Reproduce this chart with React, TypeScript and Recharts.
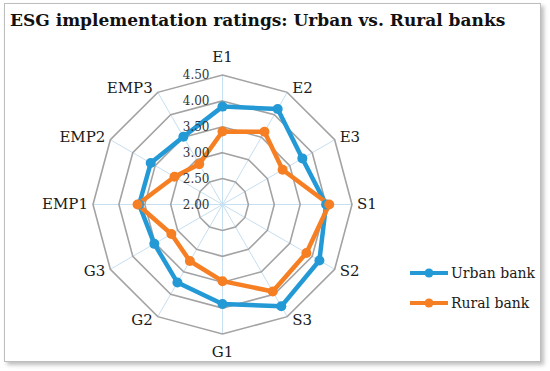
import React from 'react';
import {
    RadarChart,
    Radar,
    PolarGrid,
    PolarAngleAxis,
    PolarRadiusAxis,
    Legend
} from 'recharts';

const categories = ['E1', 'E2', 'E3', 'S1', 'S2', 'S3', 'G1', 'G2', 'G3', 'EMP1', 'EMP2', 'EMP3'];
const urbanValues = [3.89, 4.13, 3.78, 4.0, 4.16, 4.27, 3.92, 3.74, 3.52, 3.61, 3.6, 3.51];
const ruralValues = [3.41, 3.62, 3.34, 4.06, 3.87, 3.94, 3.48, 3.26, 3.14, 3.64, 3.07, 2.9];
const radiusTicks = [2.0, 2.5, 3.0, 3.5, 4.0, 4.5];
const seriesOrder = ['Urban bank', 'Rural bank'];

const URBAN_COLOR = '#2399d6';
const RURAL_COLOR = '#f57f22';
const FONT = '"DejaVu Serif", serif';

const CX = 222.5;
const CY = 204.5;
const OUTER = 129.5;

const data = categories.map((axis, i) => ({
    axis,
    urban: urbanValues[i],
    rural: ruralValues[i]
}));

// label placed just outside the outer ring vertex, like the Excel layout
const AngleTick = (props: any) => {
    const angle = props.payload.coordinate;
    const rad = (angle * Math.PI) / 180;
    const dirX = Math.cos(rad);
    const dirY = -Math.sin(rad);
    const vx = CX + dirX * OUTER;
    const vy = CY + dirY * OUTER;
    let x = vx;
    let y = vy;
    let anchor = 'middle';
    if (Math.abs(dirX) < 0.1) {
        y = vy + dirY * 18;
    } else {
        anchor = dirX > 0 ? 'start' : 'end';
        x = vx + (dirX > 0 ? 5 : -5);
        y = vy + dirY * 4 - 0.5;
    }
    return (
        <text
            x={x}
            y={y}
            textAnchor={anchor}
            dominantBaseline="central"
            fontFamily={FONT}
            fontSize={15}
            fill="#1a1a1a"
        >
            {props.payload.value}
        </text>
    );
};

const RadiusTick = (props: any) => (
    <text
        x={props.x - 13}
        y={props.y}
        textAnchor="end"
        dominantBaseline="central"
        fontFamily={FONT}
        fontSize={12}
        fill="#333"
    >
        {Number(props.payload.value).toFixed(2)}
    </text>
);

const solidDot = (color: string) => (p: any) => (
    <circle key={`dot-${p.index}`} cx={p.cx} cy={p.cy} r={5} fill={color} stroke="none" />
);

const renderLegend = (props: any) => {
    const payload = [...props.payload].sort(
        (a: any, b: any) => seriesOrder.indexOf(a.value) - seriesOrder.indexOf(b.value)
    );
    return (
        <div style={{ fontFamily: FONT, fontSize: 14, color: '#1a1a1a' }}>
            {payload.map((entry: any) => (
                <div
                    key={entry.value}
                    style={{ display: 'flex', alignItems: 'center', height: 30 }}
                >
                    <svg width={40} height={12} style={{ marginRight: 2 }}>
                        <line x1={1} y1={6} x2={39} y2={6} stroke={entry.color} strokeWidth={4} />
                        <circle cx={20} cy={6} r={4.5} fill={entry.color} />
                    </svg>
                    <span>{entry.value}</span>
                </div>
            ))}
        </div>
    );
};

export default function App() {
    return (
        <div style={{ position: 'absolute', left: 0, top: 0, width: 550, height: 371, background: '#fff' }}>
            <div
                style={{
                    position: 'absolute',
                    left: 4,
                    top: 3,
                    width: 535,
                    height: 357,
                    border: '1px solid #bdbdbd',
                    boxShadow: '3px 3px 4px rgba(0,0,0,0.25)',
                    background: '#fff'
                }}
            />
            <div
                style={{
                    position: 'absolute',
                    left: 10,
                    top: 10,
                    fontFamily: FONT,
                    fontWeight: 'bold',
                    fontSize: 17,
                    color: '#111',
                    whiteSpace: 'nowrap'
                }}
            >
                ESG implementation ratings: Urban vs. Rural banks
            </div>
            <div style={{ position: 'absolute', left: 0, top: 0 }}>
                <RadarChart
                    width={550}
                    height={371}
                    data={data}
                    cx={CX}
                    cy={CY}
                    outerRadius={OUTER}
                    margin={{ top: 0, right: 0, bottom: 0, left: 0 }}
                >
                    <PolarGrid gridType="polygon" polarRadius={[]} stroke="#c6dff1" strokeWidth={1} />
                    <PolarGrid gridType="polygon" radialLines={false} stroke="#a3a3a3" strokeWidth={1.6} />
                    <PolarAngleAxis dataKey="axis" tick={<AngleTick />} tickLine={false} axisLine={false} />
                    <Radar
                        name="Urban bank"
                        dataKey="urban"
                        stroke={URBAN_COLOR}
                        strokeWidth={4.5}
                        strokeLinejoin="round"
                        fill="none"
                        fillOpacity={0}
                        dot={solidDot(URBAN_COLOR)}
                        isAnimationActive={false}
                    />
                    <Radar
                        name="Rural bank"
                        dataKey="rural"
                        stroke={RURAL_COLOR}
                        strokeWidth={4.5}
                        strokeLinejoin="round"
                        fill="none"
                        fillOpacity={0}
                        dot={solidDot(RURAL_COLOR)}
                        isAnimationActive={false}
                    />
                    <PolarRadiusAxis
                        angle={90}
                        type="number"
                        domain={[2, 4.5]}
                        tickCount={6}
                        allowDecimals={true}
                        allowDataOverflow={true}
                        ticks={radiusTicks}
                        tick={<RadiusTick />}
                        tickLine={false}
                        axisLine={false}
                    />
                    <Legend
                        layout="vertical"
                        align="right"
                        verticalAlign="middle"
                        content={renderLegend}
                        wrapperStyle={{ position: 'absolute', left: 409, top: 258, width: 140 }}
                    />
                </RadarChart>
            </div>
        </div>
    );
}
